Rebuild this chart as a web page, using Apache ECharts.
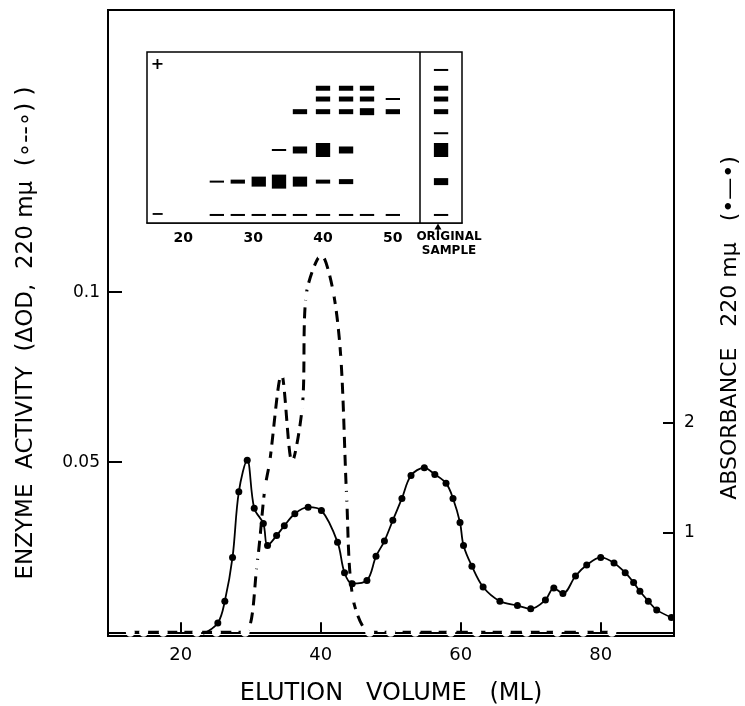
<!DOCTYPE html>
<html>
<head>
<meta charset="utf-8">
<script src="https://cdn.jsdelivr.net/npm/echarts@6/dist/echarts.min.js"></script>
<style>html,body{margin:0;padding:0;background:#fff}#c{width:745px;height:706px}</style>
</head>
<body>
<div id="c"></div>
<script>
// ---------- data ----------
const volumeTicks = [20, 40, 60, 80];
const enzymeTicks = [0.05, 0.1];
const absTicks = [1, 2];
const insetTicks = [20, 30, 40, 50];

// enzyme activity (open circles, dashed)
const enzymeVolume = [12.8, 14.7, 17.5, 22.3, 25.1, 29.2, 30.9, 32.0, 32.7, 34.4, 35.9, 37.4, 37.9, 40.1, 41.8, 42.9, 43.7, 44.6, 47.0, 50.0, 53.5, 58.6, 62.3, 66.5, 69.4, 73.8, 77.5, 81.6];
const enzymeActivity = [0, 0, 0, 0, 0, 0, 0.020, 0.042, 0.050, 0.076, 0.050, 0.067, 0.099, 0.111, 0.100, 0.080, 0.040, 0.010, 0, 0, 0, 0, 0, 0, 0, 0, 0, 0];

// absorbance 220 mu (filled circles, solid)
const absStart = [23.2, 0.07];
const absVolume = [25.3, 26.3, 27.4, 28.3, 29.5, 30.5, 31.8, 32.4, 33.7, 34.8, 36.3, 38.2, 40.1, 42.4, 43.4, 44.5, 46.6, 47.9, 49.1, 50.3, 51.6, 52.9, 54.8, 56.3, 57.9, 58.9, 59.9, 60.4, 61.6, 63.2, 65.6, 68.1, 70.0, 72.1, 73.3, 74.6, 76.4, 78.0, 80.0, 81.9, 83.5, 84.7, 85.6, 86.8, 88.0, 90.1];
const absorbance = [0.17, 0.37, 0.77, 1.37, 1.66, 1.22, 1.08, 0.88, 0.97, 1.06, 1.17, 1.23, 1.20, 0.91, 0.63, 0.53, 0.56, 0.78, 0.92, 1.11, 1.31, 1.52, 1.59, 1.53, 1.45, 1.31, 1.09, 0.88, 0.69, 0.50, 0.37, 0.33, 0.30, 0.38, 0.49, 0.44, 0.60, 0.70, 0.77, 0.72, 0.63, 0.54, 0.46, 0.37, 0.29, 0.22];

// inset gel: lanes (fraction volume), band rows (relative migration), intensity class
const laneVolume = [24.8, 27.8, 30.8, 33.7, 36.7, 40.0, 43.3, 46.3, 50.0];
const originalLane = 56.9;
const dividerVolume = 53.9;
const bandRows = { A: 78.8, B: 72.5, C: 65.1, D: 42.7, E: 24.2, F: 4.7, X1: 89.5, X2: 52.5 };
// [laneIndex (or 'OS'), row, intensity]
const bandList = [
  [5,'A',3],[6,'A',3],[7,'A',3],
  [5,'B',3],[6,'B',3],[7,'B',3],[8,'B',1],
  [4,'C',3],[5,'C',3],[6,'C',3],[7,'C',4],[8,'C',3],
  [3,'D',1],[4,'D',4],[5,'D',6],[6,'D',4],
  [0,'E',1],[1,'E',2],[2,'E',5],[3,'E',6],[4,'E',5],[5,'E',2],[6,'E',3],
  [0,'F',1],[1,'F',1],[2,'F',1],[3,'F',1],[4,'F',1],[5,'F',1],[6,'F',1],[7,'F',1],[8,'F',1],
  ['OS','X1',1],['OS','A',3],['OS','B',3],['OS','C',3],['OS','X2',1],['OS','D',6],['OS','E',4],['OS','F',1]
];
const electrodeMarks = [[16.3, 92.4], [16.3, 4.7]];
const electrodeLabels = ['+', '−'];

// ---------- build ----------
const enzymeData = enzymeVolume.map((v, i) => [v, enzymeActivity[i]]);
const absData = [{ value: absStart, symbol: 'none' }].concat(absVolume.map((v, i) => [v, absorbance[i]]));
const bandData = bandList.map(b => [b[0] === 'OS' ? originalLane : laneVolume[b[0]], bandRows[b[1]], b[2]]);
const bandHeights = { 1: 2, 2: 4, 3: 5, 4: 7, 5: 10, 6: 14 };

const FONT = 'DejaVu Sans';
const chart = echarts.init(document.getElementById('c'));
chart.setOption({
  animation: false,
  backgroundColor: '#fff',
  grid: [
    { left: 108, top: 10, width: 566, height: 626, show: true, borderColor: '#000', borderWidth: 2, backgroundColor: 'transparent', outerBoundsMode: 'none', containLabel: false },
    { left: 147, top: 52, width: 315, height: 171, show: true, borderColor: '#000', borderWidth: 1.5, backgroundColor: '#fff', z: 5, outerBoundsMode: 'none', containLabel: false }
  ],
  xAxis: [
    {
      type: 'value', gridIndex: 0, min: 9.61, max: 90.47,
      splitLine: { show: false },
      axisLine: { lineStyle: { color: '#000', width: 2 } },
      axisTick: { inside: true, length: 10, customValues: volumeTicks, lineStyle: { color: '#000', width: 2 } },
      axisLabel: { customValues: volumeTicks, color: '#000', fontSize: 18, margin: 10, fontFamily: FONT },
      name: 'ELUTION   VOLUME   (ML)', nameLocation: 'middle', nameGap: 46,
      nameTextStyle: { color: '#000', fontSize: 24, fontFamily: FONT }
    },
    {
      type: 'value', gridIndex: 1, min: 14.8, max: 59.9,
      splitLine: { show: false },
      axisLine: { lineStyle: { color: '#000', width: 1.5 } },
      axisTick: { inside: true, length: 6, customValues: insetTicks, lineStyle: { color: '#000', width: 1.5 } },
      axisLabel: { customValues: insetTicks, color: '#000', fontSize: 14, fontWeight: 'bold', margin: 8, fontFamily: FONT }
    }
  ],
  yAxis: [
    {
      type: 'value', gridIndex: 0, min: -0.0011, max: 0.183, position: 'left',
      splitLine: { show: false },
      axisLine: { lineStyle: { color: '#000', width: 2 } },
      axisTick: { inside: true, length: 14, customValues: enzymeTicks, lineStyle: { color: '#000', width: 2 } },
      axisLabel: { customValues: enzymeTicks, color: '#000', fontSize: 17, margin: 8, fontFamily: FONT },
      name: 'ENZYME  ACTIVITY  (ΔOD,  220 mμ  (∘--∘) )', nameLocation: 'middle', nameGap: 70, nameRotate: 90,
      nameTextStyle: { color: '#000', fontSize: 23, fontFamily: FONT, padding: [0, 20, 0, 0] }
    },
    {
      type: 'value', gridIndex: 0, min: 0.051, max: 5.78, position: 'right',
      splitLine: { show: false },
      axisLine: { lineStyle: { color: '#000', width: 2 } },
      axisTick: { inside: true, length: 11, customValues: absTicks, lineStyle: { color: '#000', width: 2 } },
      axisLabel: { customValues: absTicks, color: '#000', fontSize: 17, margin: 10, fontFamily: FONT },
      name: 'ABSORBANCE   220 mμ   (•—•)', nameLocation: 'middle', nameGap: 45, nameRotate: 90,
      nameTextStyle: { color: '#000', fontSize: 22, fontFamily: FONT, padding: [0, 10, 0, 0] }
    },
    {
      type: 'value', gridIndex: 1, min: 0, max: 100, show: false
    }
  ],
  series: [
    {
      type: 'line', name: 'absorbance', xAxisIndex: 0, yAxisIndex: 1,
      data: absData, smooth: 0.35,
      symbol: 'circle', symbolSize: 7,
      itemStyle: { color: '#000' },
      lineStyle: { color: '#000', width: 1.8 }
    },
    {
      type: 'line', name: 'enzyme', xAxisIndex: 0, yAxisIndex: 0,
      data: enzymeData, smooth: 0.3,
      symbol: 'emptyCircle', symbolSize: 7,
      itemStyle: { color: '#fff', borderColor: '#000', borderWidth: 2 },
      lineStyle: { color: '#000', width: 3, type: [11, 7] }
    },
    {
      type: 'custom', name: 'bands', xAxisIndex: 1, yAxisIndex: 2, z: 10,
      data: bandData, encode: { x: 0, y: 1 },
      renderItem: function (params, api) {
        const c = api.coord([api.value(0), api.value(1)]);
        const w = api.size([2.05, 0])[0];
        const h = bandHeights[api.value(2)];
        return { type: 'rect', shape: { x: c[0] - w / 2, y: c[1] - h / 2, width: w, height: h }, style: { fill: '#000' } };
      },
      markLine: {
        silent: true, symbol: 'none', label: { show: false },
        lineStyle: { color: '#000', width: 1.5, type: 'solid' },
        data: [{ xAxis: dividerVolume }]
      }
    },
    {
      type: 'custom', name: 'electrodes', xAxisIndex: 1, yAxisIndex: 2, z: 10,
      data: electrodeMarks, encode: { x: 0, y: 1 },
      renderItem: function (params, api) {
        const c = api.coord([api.value(0), api.value(1)]);
        return { type: 'text', x: c[0], y: c[1], style: { text: electrodeLabels[params.dataIndex], fill: '#000', fontSize: 16, fontWeight: 'bold', fontFamily: FONT, align: 'center', verticalAlign: 'middle' } };
      }
    }
  ],
  graphic: [
    { type: 'text', x: 449, y: 237, style: { text: 'ORIGINAL', fill: '#000', fontSize: 12, fontWeight: 'bold', fontFamily: FONT, align: 'center', verticalAlign: 'middle' } },
    { type: 'text', x: 449, y: 251, style: { text: 'SAMPLE', fill: '#000', fontSize: 12, fontWeight: 'bold', fontFamily: FONT, align: 'center', verticalAlign: 'middle' } },
    { type: 'line', shape: { x1: 438, y1: 234, x2: 438, y2: 227 }, style: { stroke: '#000', lineWidth: 1.5 } },
    { type: 'polygon', shape: { points: [[434.5, 229.5], [441.5, 229.5], [438, 223.5]] }, style: { fill: '#000' } }
  ]
});
</script>
</body>
</html>
